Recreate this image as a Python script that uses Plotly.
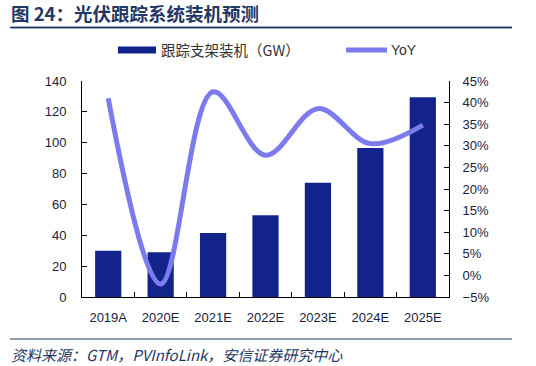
import plotly.graph_objects as go

categories = ["2019A", "2020E", "2021E", "2022E", "2023E", "2024E", "2025E"]
installs_gw = [30, 29, 41.5, 53, 74, 96.5, 129.5]
yoy_pct = [41.0, -2.0, 42.5, 27.8, 38.6, 30.5, 34.8]

left_ticks = [0, 20, 40, 60, 80, 100, 120, 140]
right_ticks = [-5, 0, 5, 10, 15, 20, 25, 30, 35, 40, 45]
right_tick_labels = ["\u22125%", "0%", "5%", "10%", "15%", "20%", "25%",
                     "30%", "35%", "40%", "45%"]

bar_name = "跟踪支架装机（GW）"
line_name = "YoY"
title_text = "图 24：光伏跟踪系统装机预测"
source_text = "资料来源：GTM，PVInfoLink，安信证券研究中心"

BAR_COLOR = "#12248C"
LINE_COLOR = "#7B7BEE"
NAVY = "#1F3864"
TICK_COLOR = "#1A2340"
FONT = "Liberation Sans, Arial, sans-serif"
CJK = "Noto Sans CJK SC, sans-serif"

# plot area in pixels: x 82..449, y 81..297
PL, PR, PT, PB = 82, 449, 81, 297
PW, PH = PR - PL, PB - PT


def px(x):
    return (x - PL) / PW


def py(y):
    return (PB - y) / PH


fig = go.Figure()
fig.add_trace(go.Bar(
    x=categories, y=installs_gw, name=bar_name,
    marker=dict(color=BAR_COLOR, line=dict(width=0)),
    yaxis="y", showlegend=False,
))
fig.add_trace(go.Scatter(
    x=categories, y=yoy_pct, name=line_name, mode="lines",
    line=dict(color=LINE_COLOR, width=5, shape="spline", smoothing=1.0),
    yaxis="y2", showlegend=False,
))

fig.update_layout(
    width=536, height=366,
    margin=dict(l=PL, r=536 - PR, t=PT, b=366 - PB, pad=0, autoexpand=False),
    paper_bgcolor="white", plot_bgcolor="white",
    bargap=0.5,
    font=dict(family=FONT, size=13, color=TICK_COLOR),
    title=dict(text="<b>" + title_text + "</b>", xref="container", yref="container",
               x=11 / 536, xanchor="left", y=1 - 15 / 366, yanchor="middle",
               font=dict(family=CJK, size=18.5, color=NAVY)),
    xaxis=dict(
        type="category", showgrid=False, showline=True, linecolor="black",
        linewidth=1, ticks="inside", ticklen=5, tickcolor="black",
        tickson="boundaries", ticklabelstandoff=8, automargin=False,
        tickfont=dict(family=FONT, size=13, color=TICK_COLOR),
    ),
    yaxis=dict(
        range=[0, 140], tickvals=left_ticks, showgrid=False, zeroline=False,
        showline=True, linecolor="black", linewidth=1, automargin=False,
        ticks="inside", ticklen=5, tickcolor="black", ticklabelstandoff=12,
        tickfont=dict(family=FONT, size=13, color=TICK_COLOR),
    ),
    yaxis2=dict(
        range=[-5, 45], tickvals=right_ticks, ticktext=right_tick_labels,
        overlaying="y", side="right", showgrid=False, zeroline=False,
        showline=True, linecolor="black", linewidth=1, automargin=False,
        ticks="inside", ticklen=5, tickcolor="black", ticklabelstandoff=10,
        tickfont=dict(family=FONT, size=13, color=TICK_COLOR),
    ),
)

# Rules
fig.add_shape(type="line", xref="paper", yref="paper",
              x0=px(10), x1=px(512), y0=py(27.5), y1=py(27.5),
              line=dict(color=NAVY, width=1.5))
# backup drawing of the top rule as an arrow-only annotation
fig.add_annotation(text=" ", xref="paper", yref="paper",
                   x=px(512), y=py(27.5), ax=-502, ay=0,
                   axref="pixel", ayref="pixel",
                   showarrow=True, arrowhead=0, arrowwidth=1.5,
                   arrowcolor=NAVY, standoff=0, startstandoff=0,
                   font=dict(size=1))
fig.add_shape(type="line", xref="paper", yref="paper",
              x0=px(10), x1=px(512), y0=py(339), y1=py(339),
              line=dict(color=NAVY, width=1.2))

# Source
fig.add_annotation(text="<i>" + source_text + "</i>", xref="paper", yref="paper",
                   x=px(9), y=py(354), xanchor="left", yanchor="middle",
                   showarrow=False, font=dict(family=CJK, size=15, color=NAVY))

# Legend (manual)
ly = py(50)
fig.add_shape(type="line", xref="paper", yref="paper",
              x0=px(118), x1=px(156), y0=ly, y1=ly,
              line=dict(color=BAR_COLOR, width=7))
fig.add_annotation(text=bar_name, xref="paper", yref="paper",
                   x=px(159), y=ly, xanchor="left", yanchor="middle",
                   showarrow=False, font=dict(family=CJK, size=14.5, color="#333333"))
fig.add_shape(type="line", xref="paper", yref="paper",
              x0=px(346), x1=px(387), y0=ly, y1=ly,
              line=dict(color=LINE_COLOR, width=5))
fig.add_annotation(text=line_name, xref="paper", yref="paper",
                   x=px(389), y=ly, xanchor="left", yanchor="middle",
                   showarrow=False, font=dict(family=FONT, size=14, color="#333333"))

fig.write_html("out.html", config={"displayModeBar": False},
               post_script="document.body.style.margin='0';")
